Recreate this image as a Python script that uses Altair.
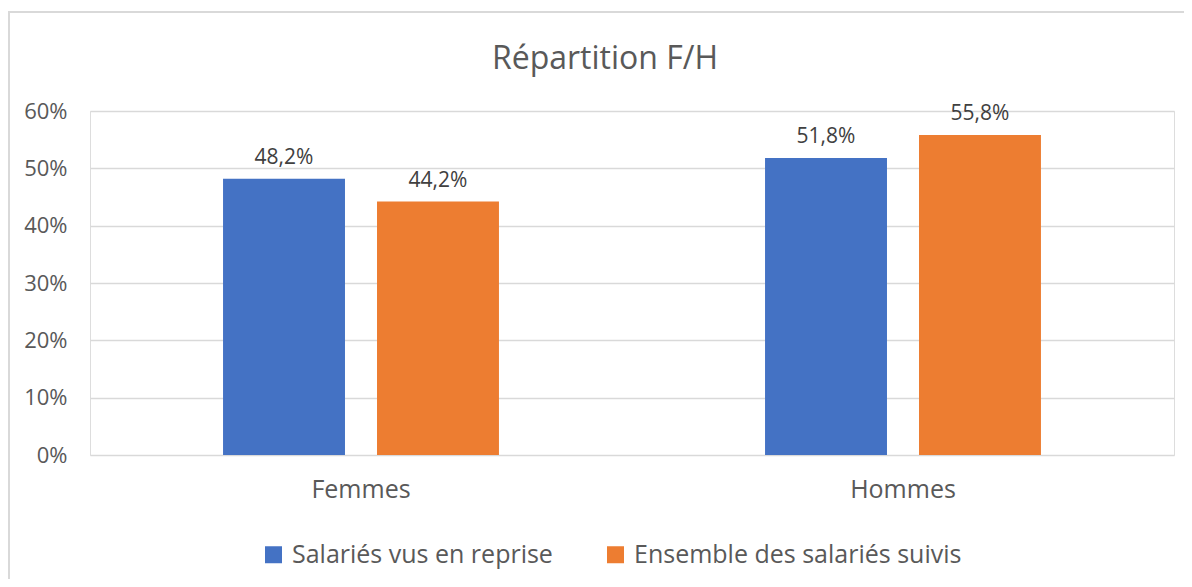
import altair as alt
import pandas as pd

categories = ["Femmes", "Hommes"]
series = ["Salariés vus en reprise", "Ensemble des salariés suivis"]
vals_reprise = [0.482, 0.518]
vals_ensemble = [0.442, 0.558]
colors = ["#4472C4", "#ED7D31"]
y_ticks = [0, 0.1, 0.2, 0.3, 0.4, 0.5, 0.6]

rows = []
for s, vals in zip(series, [vals_reprise, vals_ensemble]):
    for c, v in zip(categories, vals):
        rows.append({"cat": c, "serie": s, "val": v,
                     "label": f"{v*100:.1f}%".replace(".", ",")})
df = pd.DataFrame(rows)

FONT = "Open Sans"
TXT = "#595959"

base = alt.Chart(df).encode(
    x=alt.X("cat:N", sort=categories, title=None,
            scale=alt.Scale(paddingInner=0, paddingOuter=0),
            axis=alt.Axis(labelAngle=0, domain=False, ticks=False, labelFontSize=25,
                          labelColor=TXT, labelFont=FONT, labelPadding=22, grid=False)),
    xOffset=alt.XOffset("serie:N", sort=series,
                        scale=alt.Scale(paddingInner=0.208, paddingOuter=0.864)),
)

bars = base.mark_bar().encode(
    y=alt.Y("val:Q", title=None,
            scale=alt.Scale(domain=[0, 0.6], nice=False),
            axis=alt.Axis(values=y_ticks, format=".0%", domain=False, ticks=False,
                          labelFontSize=22, labelColor=TXT, labelFont=FONT,
                          labelPadding=23, gridColor="#D9D9D9", gridWidth=1.5)),
    color=alt.Color("serie:N", sort=series,
                    scale=alt.Scale(domain=series, range=colors),
                    legend=alt.Legend(title=None, orient="none", direction="horizontal",
                                      legendX=171, legendY=431, symbolType="square",
                                      symbolSize=289, symbolStrokeWidth=0,
                                      labelFontSize=25, labelFont=FONT, labelColor=TXT,
                                      columnPadding=50, labelOffset=6, labelLimit=500)),
)

labels = base.mark_text(baseline="alphabetic", dy=-15, fontSize=21, font=FONT,
                        color="#404040").encode(
    y=alt.Y("val:Q"),
    text="label:N",
)

frame = alt.Chart(df).mark_rect(fill=None, stroke="#D9D9D9", strokeWidth=1.5).encode(
    x=alt.value(-81), x2=alt.value(1120), y=alt.value(-99), y2=alt.value(520)
)

chart = alt.layer(frame, bars, labels).properties(
    width=1084, height=344,
    title=alt.TitleParams("Répartition F/H", fontSize=32, font=FONT, color=TXT,
                          fontWeight="normal", anchor="middle", offset=-65, dx=-27),
    autosize=alt.AutoSizeParams(type="none"),
    padding={"left": 82, "top": 103, "right": 10, "bottom": 124},
).configure_view(stroke=None).configure(background="white")

chart.save("out.html", embed_options={"renderer": "svg", "actions": False})
